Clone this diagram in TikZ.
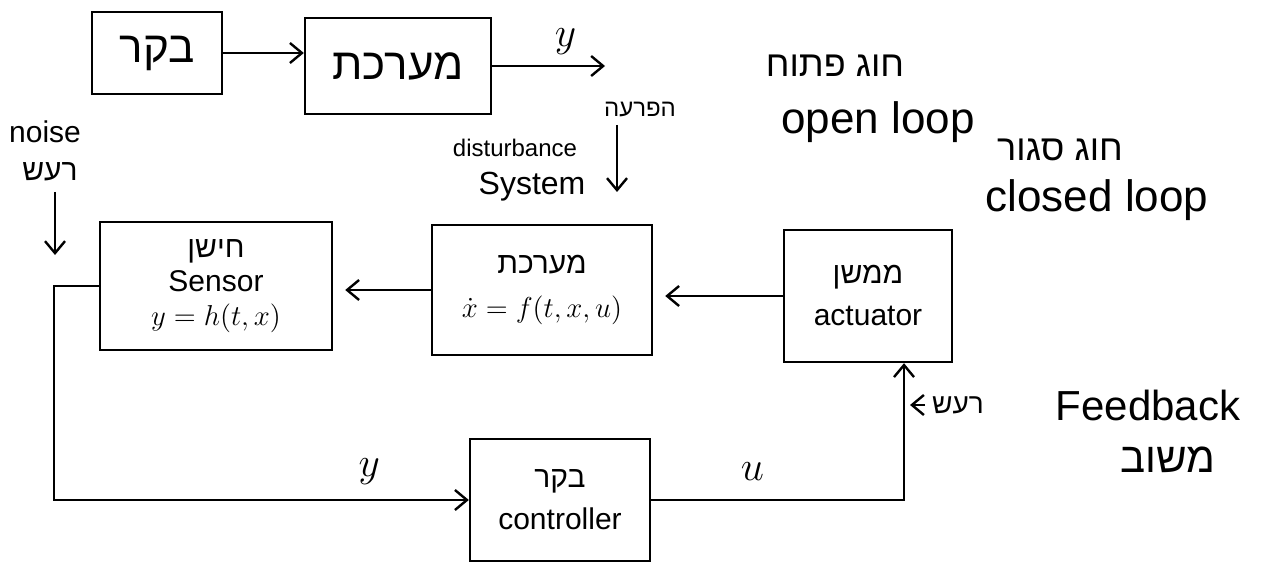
\documentclass[tikz,border=0pt]{standalone}
\usepackage{fontspec}
\setmainfont{Liberation Sans}
\newfontfamily\hebfont[Script=Hebrew]{Liberation Sans}
\TeXXeTstate=1
\usetikzlibrary{arrows.meta,positioning}
\newcommand{\heb}[1]{{\hebfont\beginR #1\endR}}

\begin{document}
\begin{tikzpicture}[x=0.5pt, y=-0.5pt,
  block/.style={draw, line width=1.2pt, align=center, inner sep=2pt,
    font=\fontsize{15}{17}\selectfont},
  flow/.style={-{Straight Barb[length=6pt,width=10pt,line width=1.2pt]}, line width=1.2pt},
  note/.style={align=center, font=\fontsize{18}{20}\selectfont},
  small/.style={font=\fontsize{12}{14}\selectfont}
]
  \useasboundingbox (0,0) rectangle (1262,572);

  % open loop: controller -> system -> y
  \node[block, minimum width=65pt, minimum height=41pt, font=\fontsize{22}{24}\selectfont] (ctrlTop) at (157,53) {\heb{בקר}};
  \node[block, minimum width=93pt, minimum height=48pt, font=\fontsize{22}{24}\selectfont] (plantTop) at (398,66) {\heb{מערכת}};
  \coordinate (yOut) at (605,66);
  \draw[flow] (ctrlTop.east) -- (ctrlTop.east -| plantTop.west);
  \draw[flow] (plantTop.east) -- (yOut) node[pos=0.65, above=2pt, font=\fontsize{20}{22}\selectfont] {$y$};

  \node[note] (openHe) at (835,66) {\heb{חוג פתוח}};
  \node[note, font=\fontsize{22}{24}\selectfont] (openEn) at (878,122) {open loop};
  \node[note] (closedHe) at (1060,150) {\heb{חוג סגור}};
  \node[note, font=\fontsize{22}{24}\selectfont] (closedEn) at (1097,200) {closed loop};

  % closed loop blocks
  \node[block, minimum width=116pt, minimum height=64pt] (sensor) at (216,286)
    {\heb{חישן}\\ Sensor\\ $y=h(t,x)$};
  \node[block, minimum width=110pt, minimum height=65pt] (system) at (542,290)
    {\heb{מערכת}\\[5pt] $\dot{x}=f(t,x,u)$};
  \node[block, minimum width=84pt, minimum height=66pt] (actuator) at (868,296)
    {\heb{ממשן}\\[4pt] actuator};
  \node[block, minimum width=90pt, minimum height=61pt] (controller) at (560,500)
    {\heb{בקר}\\[4pt] controller};

  % noise entering the sensor
  \node[note, font=\fontsize{15}{17}\selectfont] (noiseEn) at (45,132) {noise};
  \node[note, font=\fontsize{15}{17}\selectfont] (noiseHe) at (50,172) {\heb{רעש}};
  \coordinate (noiseTop) at (55,192);
  \coordinate (noiseEnd) at (55,255);
  \draw[flow] (noiseTop) -- (noiseEnd);

  % disturbance entering the system
  \node[small] (distHe) at (640,110) {\heb{הפרעה}};
  \node[small] (distEn) at (515,148) {disturbance};
  \node[note, font=\fontsize{16}{18}\selectfont] (sysLabel) at (532,187) {System};
  \coordinate (distTop) at (617,125);
  \coordinate (distEnd) at (617,192);
  \draw[flow] (distTop) -- (distEnd);

  % signal path
  \draw[flow, shorten >=6pt] (actuator.west) -- (actuator.west -| system.east);
  \draw[flow, shorten >=6pt] (system.west) -- (system.west -| sensor.east);
  \draw[flow] (sensor.west) -- ++(-45,0) |- (controller.west)
    node[pos=0.88, above=4pt, font=\fontsize{20}{22}\selectfont] {$y$};
  \draw[flow] (controller.east) -| ([xshift=18pt]actuator.south)
    node[pos=0.2, above=6pt, font=\fontsize{20}{22}\selectfont] {$u$};

  % feedback noise and labels
  \node[note, font=\fontsize{14}{16}\selectfont] (noiseFb) at (958,405) {\heb{רעש}};
  \coordinate (noiseFbEnd) at (910,405);
  \draw[flow] (noiseFb.west) -- (noiseFbEnd);
  \node[note, font=\fontsize{21}{23}\selectfont] (fbEn) at (1148,405) {Feedback};
  \node[note, font=\fontsize{21}{23}\selectfont] (fbHe) at (1168,460) {\heb{משוב}};
\end{tikzpicture}
\end{document}
